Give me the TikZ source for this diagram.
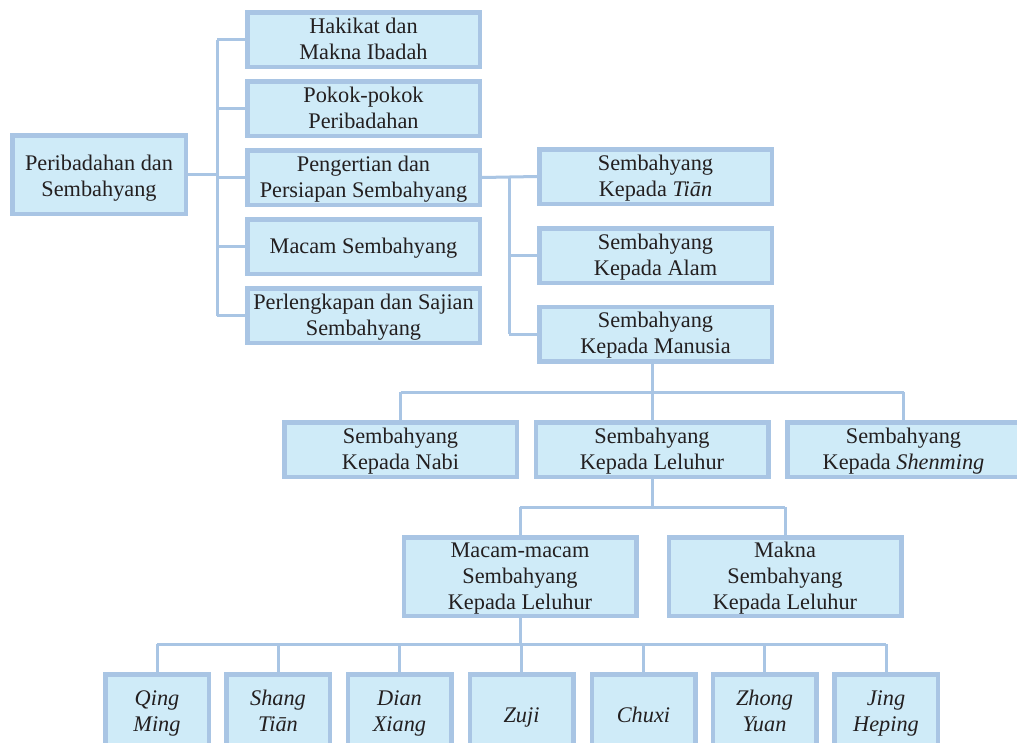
\documentclass[tikz,border=0pt]{standalone}
\usepackage{fontspec}
\setmainfont{Liberation Serif}
\definecolor{bordc}{RGB}{169,197,228}
\definecolor{fillc}{RGB}{207,235,248}
\definecolor{txtc}{RGB}{35,31,32}
\newcommand{\stl}[1]{#1\rule[-6.2pt]{0pt}{26pt}}
\newcommand{\stlr}[1]{#1\rule[-2.5pt]{0pt}{26pt}}
\newcommand{\stls}[1]{#1\rule[-6pt]{0pt}{32pt}}
\tikzset{
  box/.style={draw=bordc, fill=fillc, line width=4.5pt, inner sep=0pt, align=center,
    text=txtc, font=\fontsize{22.3}{26}\selectfont, minimum width=232.5pt, minimum height=54.5pt},
  rootbox/.style={box, minimum width=173.5pt, minimum height=78.5pt},
  tallbox/.style={box, minimum height=78.5pt},
  smallbox/.style={box, minimum width=103.5pt, minimum height=75.5pt, font=\fontsize{22.3}{26}\selectfont\itshape},
  conn/.style={draw=bordc, line width=3pt}
}
\begin{document}
\begin{tikzpicture}[x=1pt,y=-1pt]
\clip (0,0) rectangle (1017,742);
\fill[white] (0,0) rectangle (1017,742);
% root
\node[rootbox] (root) at (99,174.5) {\stlr{Peribadahan dan}\\\stlr{Sembahyang}};
% level 1
\node[box] (h1) at (363.5,39.5) {\stl{Hakikat dan}\\\stl{Makna Ibadah}};
\node[box] (h2) at (363.5,108.5) {\stl{Pokok-pokok}\\\stl{Peribadahan}};
\node[box] (h3) at (363.5,177.5) {\stl{Pengertian dan}\\\stl{Persiapan Sembahyang}};
\node[box] (h4) at (363.5,246.5) {\stl{Macam Sembahyang}};
\node[box] (h5) at (363.5,315.5) {\stl{Perlengkapan dan Sajian}\\\stl{Sembahyang}};
% level 2
\node[box] (s1) at (655.5,176.5) {\stl{Sembahyang}\\\stl{Kepada \textit{Tiān}}};
\node[box] (s2) at (655.5,255.5) {\stl{Sembahyang}\\\stl{Kepada Alam}};
\node[box] (s3) at (655.5,334) {\stl{Sembahyang}\\\stl{Kepada Manusia}};
% level 3
\node[box] (n1) at (400.5,449.5) {\stl{Sembahyang}\\\stl{Kepada Nabi}};
\node[box] (n2) at (652,449.5) {\stl{Sembahyang}\\\stl{Kepada Leluhur}};
\node[box] (n3) at (903.5,449.5) {\stl{Sembahyang}\\\stl{Kepada \textit{Shenming}}};
% level 4
\node[tallbox] (m1) at (520,576.5) {\stl{Macam-macam}\\\stl{Sembahyang}\\\stl{Kepada Leluhur}};
\node[tallbox] (m2) at (785,576.5) {\stl{Makna}\\\stl{Sembahyang}\\\stl{Kepada Leluhur}};
% level 5
\node[smallbox] (q1) at (157,712) {\stl{Qing}\\\stl{Ming}};
\node[smallbox] (q2) at (278,712) {\stl{Shang}\\\stl{Tiān}};
\node[smallbox] (q3) at (399.5,712) {\stl{Dian}\\\stl{Xiang}};
\node[smallbox] (q4) at (521.5,712) {\stls{Zuji}};
\node[smallbox] (q5) at (643.5,712) {\stls{Chuxi}};
\node[smallbox] (q6) at (764.5,712) {\stl{Zhong}\\\stl{Yuan}};
\node[smallbox] (q7) at (886,712) {\stl{Jing}\\\stl{Heping}};
% trunk coordinates
\coordinate (t1) at (217,0);
\coordinate (t2) at (509,0);
\coordinate (b1) at (0,392);
\coordinate (b2) at (0,507);
\coordinate (b3) at (0,644);
% root -> level 1
\draw[conn] (root.east) -- (root.east -| t1);
\draw[conn] (h1.west -| t1) -- (h5.west -| t1);
\foreach \n in {h1,h2,h3,h4,h5} \draw[conn] (\n.west -| t1) -- (\n.west);
% level 1 -> level 2
\draw[conn] (h3.east) -- (s1.west);
\draw[conn] (s1.west -| t2) -- (s3.west -| t2);
\draw[conn] (s2.west -| t2) -- (s2.west);
\draw[conn] (s3.west -| t2) -- (s3.west);
% level 2 -> level 3
\draw[conn] (n2.north |- s3.south) -- (n2.north |- b1);
\draw[conn] (n1.north |- b1) -- (n3.north |- b1);
\foreach \n in {n1,n2,n3} \draw[conn] (\n.north |- b1) -- (\n.north);
% level 3 -> level 4
\draw[conn] (n2.south) -- (n2.south |- b2);
\draw[conn] (m1.north |- b2) -- (m2.north |- b2);
\foreach \n in {m1,m2} \draw[conn] (\n.north |- b2) -- (\n.north);
% level 4 -> level 5
\draw[conn] (m1.south) -- (m1.south |- b3);
\draw[conn] (q1.north |- b3) -- (q7.north |- b3);
\foreach \n in {q1,q2,q3,q4,q5,q6,q7} \draw[conn] (\n.north |- b3) -- (\n.north);
\end{tikzpicture}
\end{document}
